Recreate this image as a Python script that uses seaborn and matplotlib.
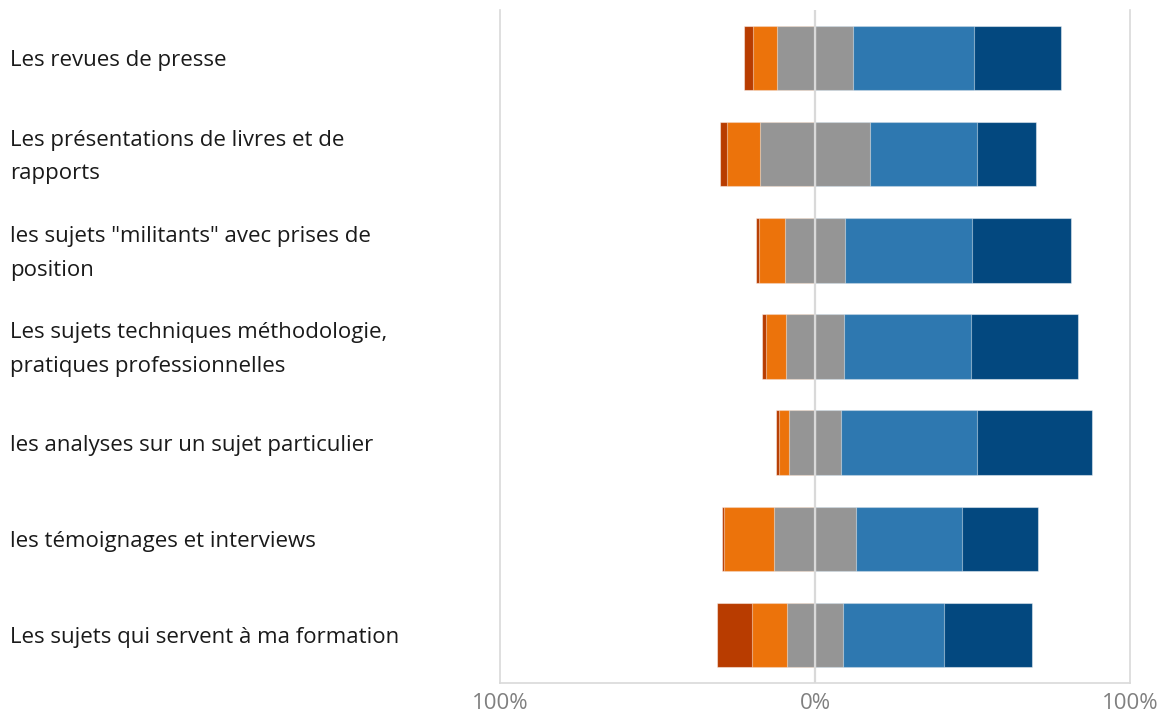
import numpy as np
import pandas as pd
import matplotlib
matplotlib.use("Agg")
import matplotlib.pyplot as plt
import matplotlib.transforms as mtransforms
import seaborn as sns

categories = [
    "Les revues de presse",
    "Les présentations de livres et de\nrapports",
    "les sujets \"militants\" avec prises de\nposition",
    "Les sujets techniques méthodologie,\npratiques professionnelles",
    "les analyses sur un sujet particulier",
    "les témoignages et interviews",
    "Les sujets qui servent à ma formation",
]

# share of answers (%) per level
strongly_neg = [2.9, 2.4, 1.0, 1.4, 1.1, 0.7, 11.1]
neg = [7.6, 10.3, 8.4, 6.3, 2.9, 15.9, 11.3]
neutral = [24.1, 35.0, 18.9, 18.5, 16.8, 25.9, 17.7]
pos = [38.3, 33.9, 40.3, 40.4, 43.1, 33.8, 32.0]
strongly_pos = [27.6, 18.6, 31.6, 33.7, 36.3, 23.9, 28.1]

colors = {
    "strongly_neg": "#B83C00",
    "neg": "#EC730B",
    "neutral": "#959595",
    "pos": "#2E78B0",
    "strongly_pos": "#03487F",
}

df = pd.DataFrame({
    "category": categories,
    "strongly_neg": strongly_neg,
    "neg": neg,
    "neutral": neutral,
    "pos": pos,
    "strongly_pos": strongly_pos,
})

# cumulative ends of each stacked layer, neutral split around 0
half = df["neutral"] / 2
df["r_strongly_pos"] = half + df["pos"] + df["strongly_pos"]
df["r_pos"] = half + df["pos"]
df["r_neutral"] = half
df["l_strongly_neg"] = -(half + df["neg"] + df["strongly_neg"])
df["l_neg"] = -(half + df["neg"])
df["l_neutral"] = -half

sns.set_theme(style="white")
plt.rcParams["font.family"] = ["Open Sans", "DejaVu Sans"]

fig = plt.figure(figsize=(11.66, 7.15), dpi=100)
ax = fig.add_axes([500 / 1166, 32 / 715, 630 / 1166, 673 / 715])

layers = [
    ("r_strongly_pos", "strongly_pos"),
    ("r_pos", "pos"),
    ("r_neutral", "neutral"),
    ("l_strongly_neg", "strongly_neg"),
    ("l_neg", "neg"),
    ("l_neutral", "neutral"),
]
for col, key in layers:
    sns.barplot(data=df, x=col, y="category", orient="y", color=colors[key],
                saturation=1, width=0.67, edgecolor=(1, 1, 1, 0.45),
                linewidth=0.8, ax=ax)

ax.axvline(0, color="#D9D9D9", lw=1.6, zorder=5)
ax.set_xlim(-100, 100)
ax.set_xticks([-100, 0, 100])
ax.set_xticklabels(["100%", "0%", "100%"])
ax.tick_params(axis="x", colors="#808080", labelsize=16, length=0, pad=7)
ax.set_xlabel("")
ax.set_ylabel("")
ax.set_yticks([])

for side in ["left", "right", "bottom"]:
    ax.spines[side].set_color("#D9D9D9")
    ax.spines[side].set_linewidth(1.2)
ax.spines["top"].set_visible(False)

# category labels, left aligned at the figure edge
trans = mtransforms.blended_transform_factory(fig.transFigure, ax.transData)
for i, label in enumerate(categories):
    fig.text(10 / 1166, i + 0.03, label, transform=trans, ha="left", va="center",
             fontsize=16, color="#1A1A1A", linespacing=1.8)

fig.savefig("out.png", dpi=100)
